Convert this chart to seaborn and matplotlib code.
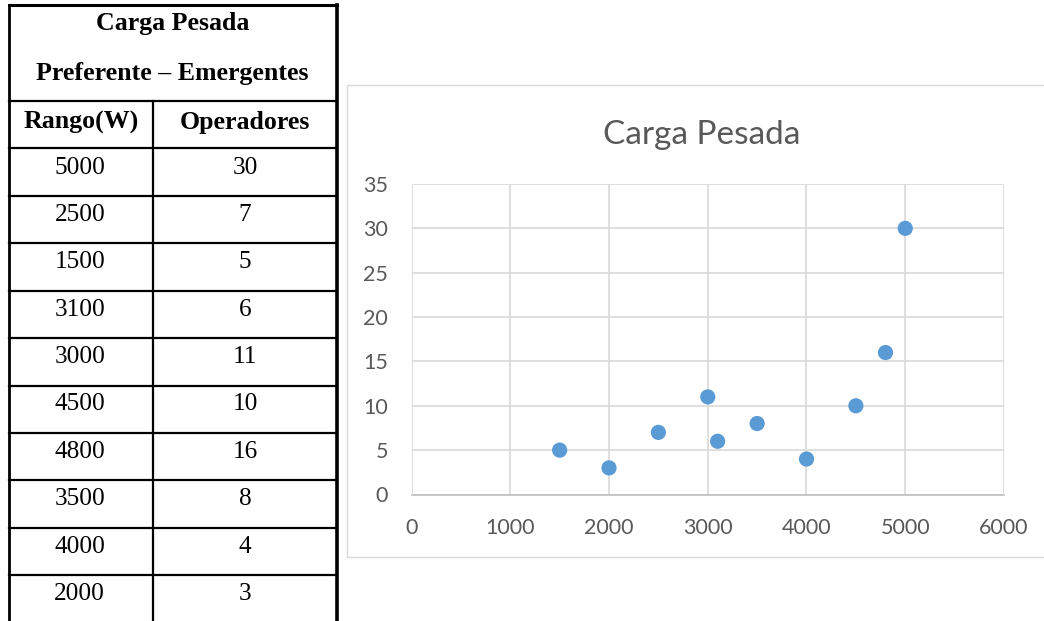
import matplotlib
matplotlib.use("Agg")
import matplotlib.pyplot as plt
import seaborn as sns
import pandas as pd
from matplotlib.lines import Line2D
from matplotlib.patches import Rectangle

# Data: power range (W) and number of operators
rango = [5000, 2500, 1500, 3100, 3000, 4500, 4800, 3500, 4000, 2000]
operadores = [30, 7, 5, 6, 11, 10, 16, 8, 4, 3]

table_title = ["Carga Pesada", "Preferente \u2013 Emergentes"]
col_headers = ["Rango(W)", "Operadores"]
chart_title = "Carga Pesada"
x_ticks = [0, 1000, 2000, 3000, 4000, 5000, 6000]
y_ticks = [0, 5, 10, 15, 20, 25, 30, 35]

W, H = 1044, 621
sns.set_theme(style="white")
plt.rcParams["font.family"] = ["Lato", "DejaVu Sans"]

fig = plt.figure(figsize=(W / 100, H / 100), dpi=100)
fig.patch.set_facecolor("white")


def fx(x):
    return x / W


def fy(y):
    return 1 - y / H


def hline(x0, x1, y, lw):
    fig.add_artist(Line2D([fx(x0), fx(x1)], [fy(y), fy(y)], color="black",
                          lw=lw, transform=fig.transFigure, solid_capstyle="projecting"))


def vline(x, y0, y1, lw):
    fig.add_artist(Line2D([fx(x), fx(x)], [fy(y0), fy(y1)], color="black",
                          lw=lw, transform=fig.transFigure, solid_capstyle="projecting"))


# ---- Table on the left ----
tl, tm, tr = 8.5, 153, 337
top = 4.5
head_bot = 100.5
row_top = 148.5
row_h = 47.4
n = len(rango)
bottom = H + 5

vline(tl, top, bottom, 2.0)
vline(tr, top, bottom, 2.6)
hline(tl, tr, top, 2.2)
hline(tl, tr, head_bot, 1.6)
vline(tm, head_bot, bottom, 1.6)
for i in range(n):
    hline(tl, tr, row_top + i * row_h, 1.6)

serif = ["Liberation Serif", "DejaVu Serif"]
fs_bold = 18.6
fs_reg = 18.2
cx_all = (tl + tr) / 2
fig.text(fx(cx_all), fy(30), table_title[0], ha="center", va="baseline",
         fontsize=fs_bold, fontweight="bold", family=serif, color="black")
fig.text(fx(cx_all), fy(80), table_title[1], ha="center", va="baseline",
         fontsize=fs_bold, fontweight="bold", family=serif, color="black")
c1 = (tl + tm) / 2
c2 = (tm + tr) / 2
fig.text(fx(c1), fy(129), col_headers[0], ha="center", va="baseline",
         fontsize=fs_bold, fontweight="bold", family=serif, color="black")
fig.text(fx(c2), fy(129), col_headers[1], ha="center", va="baseline",
         fontsize=fs_bold, fontweight="bold", family=serif, color="black")
for i, (r, o) in enumerate(zip(rango, operadores)):
    yb = row_top + i * row_h + 25
    fig.text(fx(c1 - 1), fy(yb), str(r), ha="center", va="baseline",
             fontsize=fs_reg, family=serif, color="black")
    fig.text(fx(c2), fy(yb), str(o), ha="center", va="baseline",
             fontsize=fs_reg, family=serif, color="black")

# ---- Chart frame ----
fig.add_artist(Rectangle((fx(347), fy(557)), fx(W + 20) - fx(347), fy(85) - fy(557),
                         transform=fig.transFigure, fill=False,
                         edgecolor="#D9D9D9", lw=1.0))

# ---- Scatter chart ----
ax_l, ax_r, ax_t, ax_b = 411.5, 1004, 184, 494.5
ax = fig.add_axes([fx(ax_l), fy(ax_b), fx(ax_r) - fx(ax_l), fy(ax_t) - fy(ax_b)])
df = pd.DataFrame({"Rango": rango, "Operadores": operadores})
sns.scatterplot(data=df, x="Rango", y="Operadores", ax=ax, color="#5B9BD5",
                s=120, edgecolor="none", zorder=3, clip_on=False)

ax.set_xlim(0, 6000)
ax.set_ylim(0, 35)
ax.set_xticks(x_ticks)
ax.set_yticks(y_ticks)
ax.set_xticklabels([str(t) for t in x_ticks])
ax.set_yticklabels([str(t) for t in y_ticks])
ax.grid(True, color="#D9D9D9", lw=1.2)
ax.set_axisbelow(True)
for side in ["top", "right", "left"]:
    ax.spines[side].set_visible(False)
ax.spines["bottom"].set_color("#BFBFBF")
ax.spines["bottom"].set_linewidth(1.2)
ax.set_xlabel("")
ax.set_ylabel("")
ax.tick_params(axis="both", length=0, labelsize=15.5, colors="#595959")
ax.tick_params(axis="x", pad=17)
ax.tick_params(axis="y", pad=17)
ax.set_facecolor("none")

fig.text(fx(702), fy(135), chart_title, ha="center", va="center",
         fontsize=24, color="#595959")

fig.savefig("out.png", dpi=100, facecolor="white")
